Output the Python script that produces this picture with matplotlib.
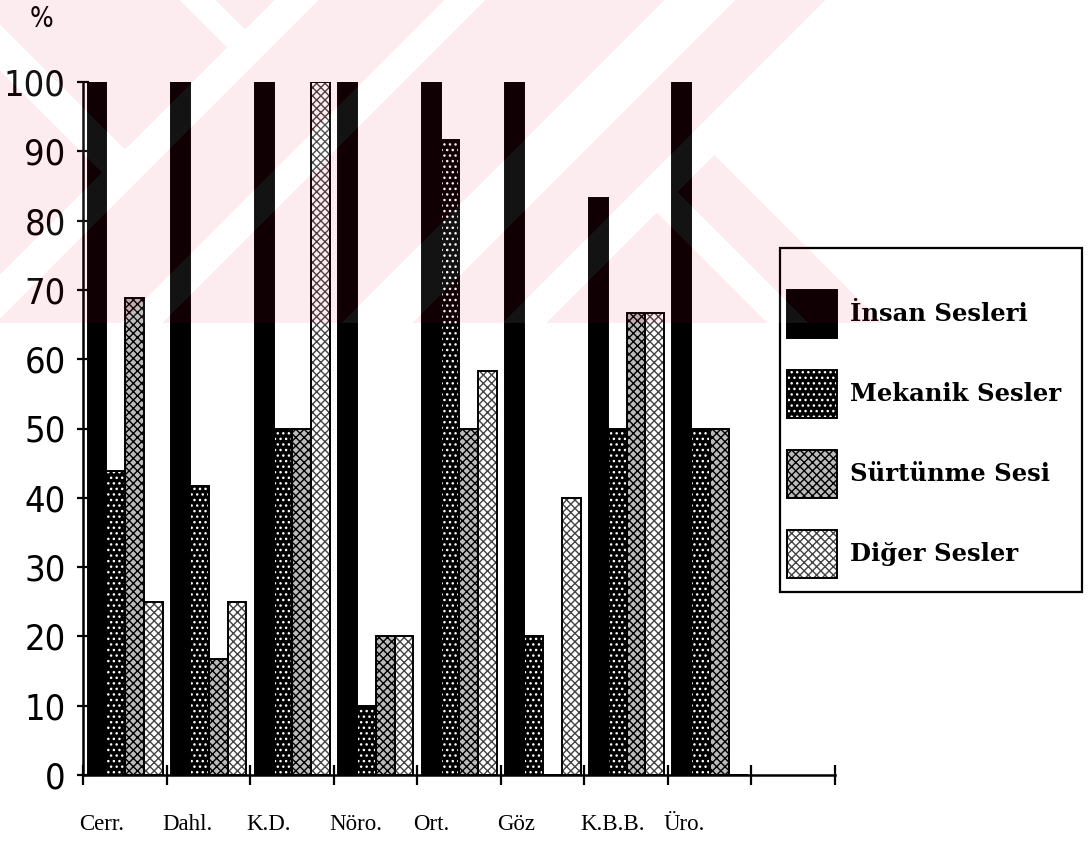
import numpy as np
import matplotlib
matplotlib.use("Agg")
import matplotlib.pyplot as plt
from matplotlib.patches import Patch, Rectangle
from matplotlib.legend_handler import HandlerTuple
from matplotlib.transforms import ScaledTranslation
from matplotlib import font_manager

# ---- data -----------------------------------------------------------------
categories = ["Cerr.", "Dahl.", "K.D.", "Nöro.", "Ort.", "Göz", "K.B.B.", "Üro."]
insan_sesleri = [100, 100, 100, 100, 100, 100, 83.3, 100]
mekanik_sesler = [43.8, 41.7, 50, 10, 91.7, 20, 50, 50]
surtunme_sesi = [68.8, 16.7, 50, 20, 50, 0, 66.7, 50]
diger_sesler = [25, 25, 100, 20, 58.3, 40, 66.7, 0]
series_labels = ["İnsan Sesleri", "Mekanik Sesler", "Sürtünme Sesi", "Diğer Sesler"]
y_ticks = [0, 10, 20, 30, 40, 50, 60, 70, 80, 90, 100]

series = [insan_sesleri, mekanik_sesler, surtunme_sesi, diger_sesler]

# fill, hatch colour, hatch pattern for each series
styles = [
    ("black", "black", None),
    ("black", "white", "..."),
    ("#bbbbbb", "black", "xxxx"),
    ("white", "#444444", "xxxx"),
]

# pick a narrow sans face for the numbers if one is available
narrow_props = dict(family="DejaVu Sans", stretch="condensed")
try:
    fpath = font_manager.findfont(font_manager.FontProperties(**narrow_props),
                                  fallback_to_default=False)
    if "Condensed" not in fpath:
        raise ValueError
except Exception:
    narrow_props = None

W, H = 1089, 842
plt.rcParams["hatch.linewidth"] = 1.0
fig = plt.figure(figsize=(W / 100, H / 100), dpi=100)
fig.patch.set_facecolor("white")
ax = fig.add_axes([83 / W, 1 - 775 / H, 752 / W, (775 - 82) / H])

n_slots = len(categories) + 1
x = np.arange(len(categories))
bar_w = 0.225
offset = 0.055

handles = []
for k, (vals, (face, hcol, hatch)) in enumerate(zip(series, styles)):
    left = x + offset + k * bar_w
    ax.bar(left, vals, width=bar_w, align="edge", color=face, edgecolor=hcol,
           hatch=hatch, linewidth=0, zorder=2)
    ax.bar(left, vals, width=bar_w, align="edge", fill=False,
           edgecolor="black", linewidth=1.4, zorder=3)
    handles.append((Patch(facecolor=face, edgecolor=hcol, hatch=hatch, linewidth=0),
                    Patch(fill=False, edgecolor="black", linewidth=1.4)))

ax.set_xlim(0, n_slots)
ax.set_ylim(0, 100)
for side in ("top", "right"):
    ax.spines[side].set_visible(False)
for side in ("left", "bottom"):
    ax.spines[side].set_linewidth(1.8)
    ax.spines[side].set_zorder(4)

ax.set_xticks(np.arange(n_slots + 1))
ax.set_xticklabels([])
ax.tick_params(axis="x", direction="inout", length=14, width=1.6)

if narrow_props:
    ytick_font = dict(fontfamily=narrow_props["family"],
                      fontstretch=narrow_props["stretch"], fontsize=26)
    pct_font = dict(fontfamily=narrow_props["family"],
                    fontstretch=narrow_props["stretch"], fontsize=20)
else:
    ytick_font = dict(fontfamily=["Liberation Sans", "DejaVu Sans"], fontsize=25)
    pct_font = dict(fontfamily=["Liberation Sans", "DejaVu Sans"], fontsize=18)

ax.set_yticks(y_ticks, labels=[str(v) for v in y_ticks], **ytick_font)
ax.tick_params(axis="y", direction="inout", length=9, width=1.6, pad=8)
ax.set_facecolor("none")

# category names under each slot
lab_trans = ax.get_xaxis_transform() + ScaledTranslation(-4 / 100, 0, fig.dpi_scale_trans)
for i, name in enumerate(categories):
    ax.text(i, -0.072, name, transform=lab_trans, ha="left", va="center",
            fontfamily=["Liberation Serif", "DejaVu Serif"], fontsize=16.5)

fig.text(41 / W, 1 - 19 / H, "%", ha="center", va="center", **pct_font)

# legend with its own frame
fig.legend(handles, series_labels, handler_map={tuple: HandlerTuple(ndivide=1)},
           loc="upper left", bbox_to_anchor=(787 / W, 1 - 290 / H),
           frameon=False, borderpad=0, borderaxespad=0,
           handlelength=2.06, handleheight=2.66, labelspacing=1.32,
           handletextpad=0.55,
           prop=dict(family=["DejaVu Serif"], weight="bold", size=17.5))
fig.add_artist(Rectangle((780 / W, 1 - 592 / H), (1082 - 780) / W, (592 - 248) / H,
                         transform=fig.transFigure, fill=False,
                         edgecolor="black", linewidth=1.6))

# faint diagonal background stamp across the upper part of the page
yy, xx = np.mgrid[0:H, 0:W] + 0.5
s = xx + yy
d = xx - yy
top = yy < 323
stripes = (((s >= 275) & (s <= 318)) | ((s >= 445) & (s <= 485)) |
           ((s >= 665) & (s <= 735)) |
           ((d >= -70) & (d <= -25) & (s < 297)) |
           ((d >= 180) & (d <= 215) & (s < 297)) |
           ((d >= 445) & (d <= 485) & (s > 826)))
zone = top & ((s < 870) | (d < 560))
tinted = zone & ((s < 826) | ((s >= 870) & (d < 560))) & ~stripes
light = zone & ~tinted
stamp = np.zeros((H, W, 4))
stamp[tinted] = (0.9, 0.0, 0.2, 0.078)
stamp[light] = (1.0, 1.0, 1.0, 0.08)
fig.figimage(stamp, xo=0, yo=0, origin="upper", zorder=100)

fig.savefig("out.png", dpi=100, facecolor="white")
